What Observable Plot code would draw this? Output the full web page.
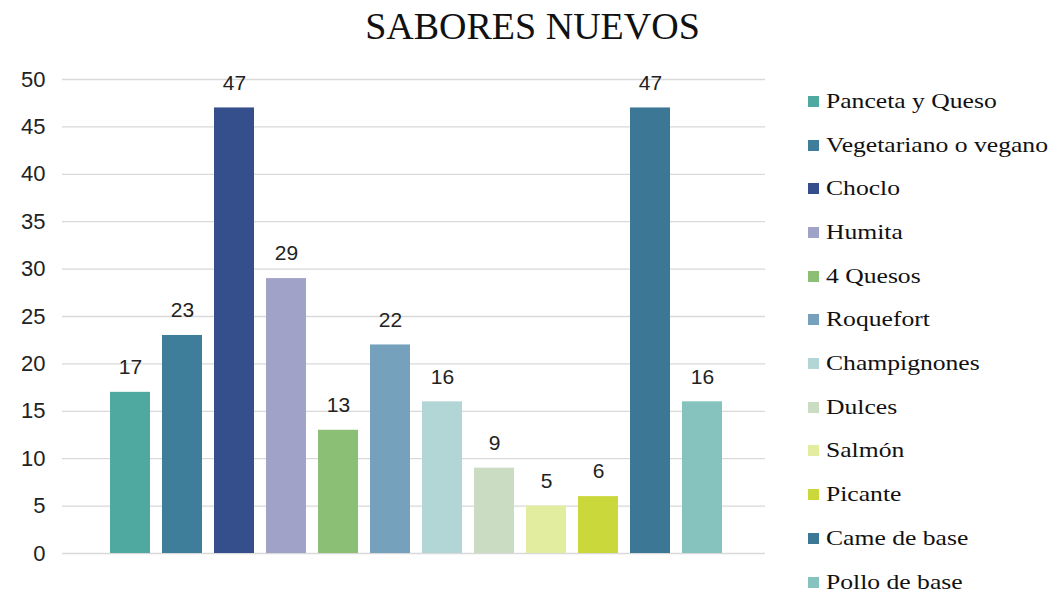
<!DOCTYPE html>
<html><head><meta charset="utf-8">
<script src="https://cdn.jsdelivr.net/npm/d3@7"></script>
<script src="https://cdn.jsdelivr.net/npm/@observablehq/plot@0.6"></script>
<style>
body{margin:0;background:#fff;width:1055px;height:593px;position:relative;overflow:hidden}
#title{position:absolute;left:0;top:7px;width:1065px;text-align:center;font-family:"Liberation Serif",serif;font-size:38px;line-height:38px;color:#111}
#chart{position:absolute;left:0;top:60px}
#legend{position:absolute;left:808px;top:79.6px;font-family:"Liberation Serif",serif;font-size:21px;color:#111}
.row{height:43.7px;display:flex;align-items:center;white-space:nowrap}
.sw{width:11px;height:11px;margin-right:7px;flex:none}
.row span{display:inline-block;transform:scaleX(1.22);transform-origin:left center}
</style></head>
<body>
<div id="title">SABORES NUEVOS</div>
<div id="chart"></div>
<div id="legend"></div>
<script>
const flavors = ["Panceta y Queso","Vegetariano o vegano","Choclo","Humita","4 Quesos","Roquefort","Champignones","Dulces","Salmón","Picante","Came de base","Pollo de base"];
const values = [17,23,47,29,13,22,16,9,5,6,47,16];
const colors = ["#50a9a0","#3e7e9a","#344f8c","#a0a2c8","#8bbf76","#76a1bc","#b2d6d5","#cadcc2","#e3eda0","#cad83b","#3c7896","#86c3bf"];
const yTicks = [0,5,10,15,20,25,30,35,40,45,50];

const data = flavors.map((f,i)=>({flavor:f, value:values[i]}));

const chart = Plot.plot({
  width: 785, height: 533,
  marginTop: 19, marginBottom: 40, marginLeft: 62, marginRight: 20,
  style: {fontFamily: "'Liberation Sans', Arial, sans-serif", color: "#222", background: "transparent"},
  x: {domain: flavors, range: [102, 730], paddingInner: 0.24, paddingOuter: 0.12, axis: null},
  y: {domain: [0, 50], axis: null},
  color: {domain: flavors, range: colors},
  marks: [
    Plot.gridY(yTicks, {stroke: "#d9d9d9", strokeOpacity: 1, strokeWidth: 1.3}),
    Plot.axisY(yTicks, {tickSize: 0, tickPadding: 17, fontSize: 22, label: null, fill: "#222", style: {letterSpacing: "3px"}}),
    Plot.barY(data, {x: "flavor", y: "value", fill: "flavor"}),
    Plot.text(data, {x: "flavor", y: "value", text: d => String(d.value), dy: -25, fontSize: 21, fill: "#222"})
  ]
});
document.getElementById("chart").appendChild(chart);

const legend = document.getElementById("legend");
flavors.forEach((f,i)=>{
  const row = document.createElement("div");
  row.className = "row";
  const sw = document.createElement("div");
  sw.className = "sw";
  sw.style.background = colors[i];
  const t = document.createElement("span");
  t.textContent = f;
  row.appendChild(sw); row.appendChild(t);
  legend.appendChild(row);
});
</script>
</body></html>
